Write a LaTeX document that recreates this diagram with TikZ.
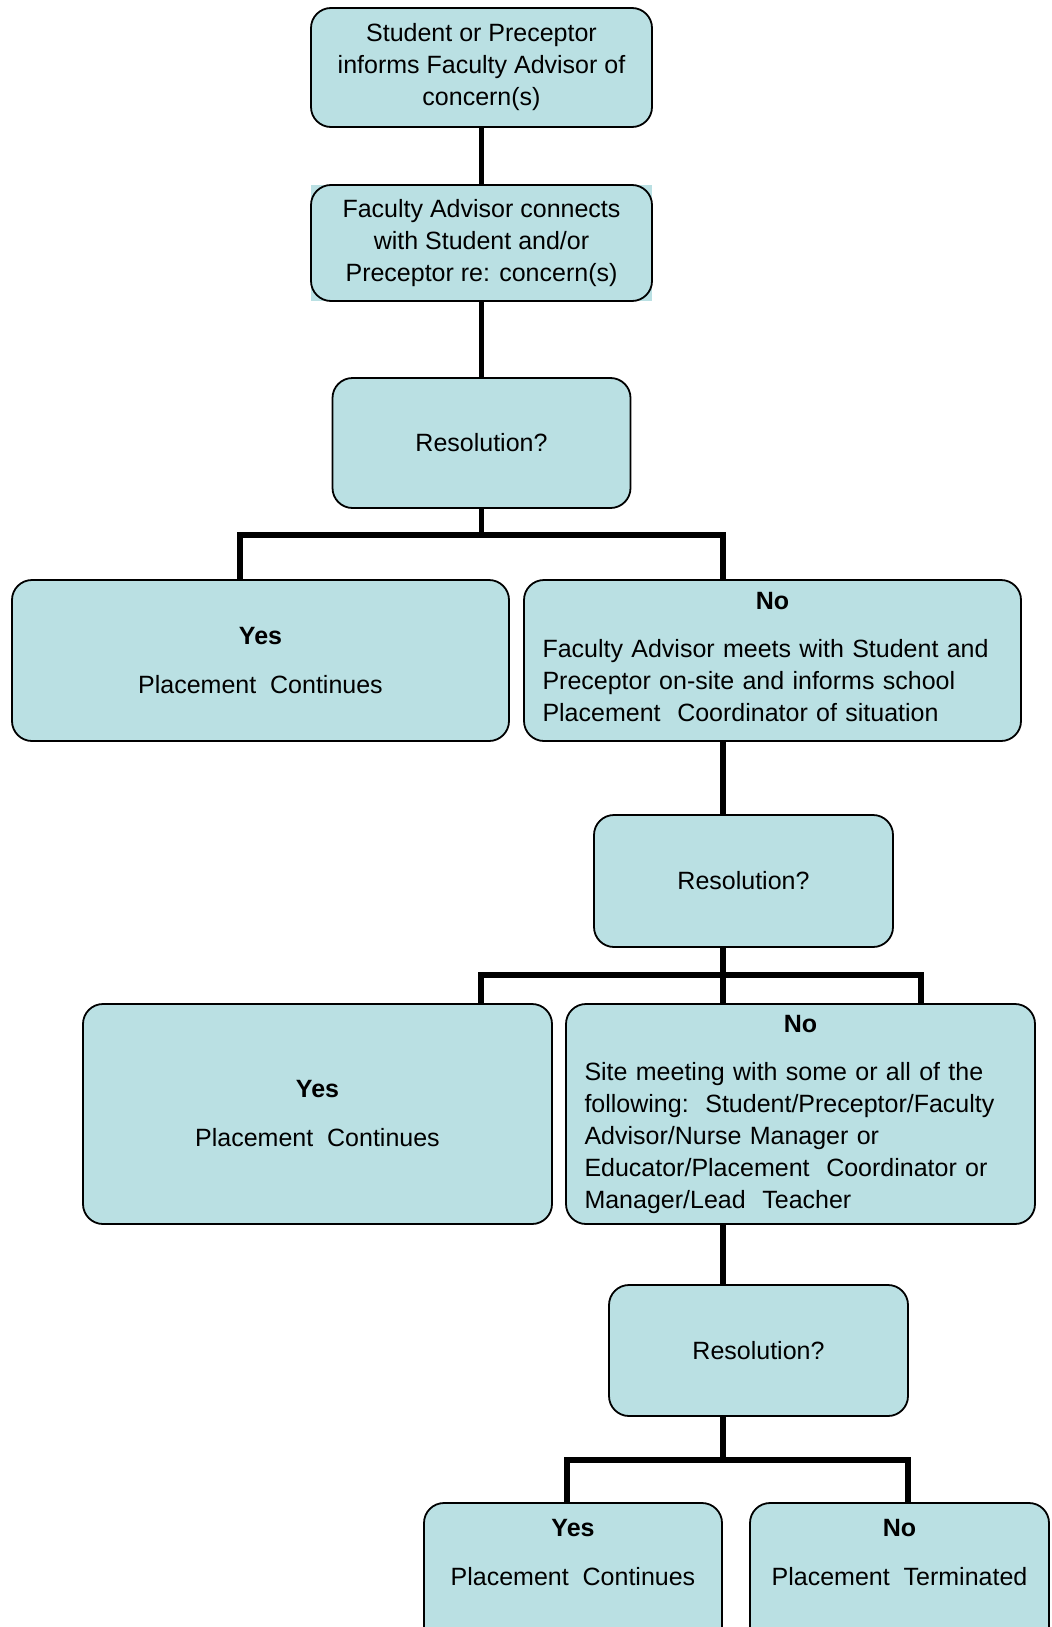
\documentclass[tikz,border=0pt]{standalone}
\usepackage{fontspec}
\setmainfont{Liberation Sans}
\definecolor{boxfill}{RGB}{186,224,227}
\begin{document}
\begin{tikzpicture}[x=0.5pt,y=-0.5pt,
  box/.style={draw=black, line width=0.9pt, fill=boxfill, rounded corners=10pt,
    font=\fontsize{12.5}{16}\selectfont, inner xsep=9pt, inner ysep=2pt},
  bx/.style 2 args={minimum width=#1*0.5pt, minimum height=#2*0.5pt},
  tw/.style={text width=#1*0.5pt-18.5pt},
  conn/.style={draw=black, line width=2.8pt, line join=miter}]
\useasboundingbox (0,0) rectangle (1052,1627);
\clip (0,0) rectangle (1052,1627);
% square fill behind second box
\fill[boxfill] (311,185) rectangle (652,301);
\node[box,bx={341}{119},align=center] (b1) at (481.5,67.5)
  {Student or Preceptor\\informs Faculty Advisor of\\concern(s)};
\node[box,bx={341}{116},align=center] (b2) at (481.5,243)
  {Faculty Advisor connects\\with Student and/or\\Preceptor re: concern(s)};
\node[box,bx={298}{130},align=center] (r1) at (481.5,443) {Resolution?};
\node[box,bx={497}{161},align=center] (y1) at (260.5,660.5)
  {\textbf{Yes}\\[8.5pt]Placement\ \ Continues};
\node[box,bx={497}{161},tw={497},align=left] (n1) at (772.5,660.5)
  {\makebox[\hsize][c]{\textbf{No}}\\[8pt]Faculty Advisor meets with Student and\\Preceptor on-site and informs school\\Placement\ \ Coordinator of situation\\[-12pt]\mbox{}};
\node[box,bx={299}{132},align=center] (r2) at (743.5,881) {Resolution?};
\node[box,bx={469}{220},align=center] (y2) at (317.5,1114)
  {\textbf{Yes}\\[8.5pt]Placement\ \ Continues};
\node[box,bx={469}{220},tw={469},align=left] (n2) at (800.5,1114)
  {\makebox[\hsize][c]{\textbf{No}}\\[8pt]Site meeting with some or all of the\\following:\ \ Student/Preceptor/Faculty\\Advisor/Nurse Manager\ or\\Educator/Placement\ \ Coordinator\ or\\Manager/Lead\ \ Teacher};
\node[box,bx={299}{131},align=center] (r3) at (758.5,1350.5) {Resolution?};
\node[box,bx={298}{180},align=center] (y3) at (573,1593)
  {\textbf{Yes}\\[8.5pt]Placement\ \ Continues\\[25pt]\mbox{}};
\node[box,bx={299}{180},align=center] (n3) at (899.5,1593)
  {\textbf{No}\\[8.5pt]Placement\ \ Terminated\\[25pt]\mbox{}};
% junctions
\coordinate (j1) at (481.5,535);
\coordinate (j1L) at (240,535);
\coordinate (j1R) at (723,535);
\coordinate (j2) at (723,975);
\coordinate (j2L) at (481,975);
\coordinate (j2R) at (921,975);
\coordinate (j3) at (723,1460);
\coordinate (j3L) at (567,1460);
\coordinate (j3R) at (908,1460);
% connectors
\draw[conn] (b1.south) -- (b2.north);
\draw[conn] (b2.south) -- (r1.north);
\draw[conn] (r1.south -| j1) -- (j1);
\draw[conn] (y1.north -| j1L) -- (j1L) -- (j1R) -- (n1.north -| j1R);
\draw[conn] (n1.south -| j1R) -- (r2.north -| j1R);
\draw[conn] (r2.south -| j2) -- (n2.north -| j2);
\draw[conn] (y2.north -| j2L) -- (j2L) -- (j2R) -- (n2.north -| j2R);
\draw[conn] (n2.south -| j3) -- (r3.north -| j3);
\draw[conn] (r3.south -| j3) -- (j3);
\draw[conn] (y3.north -| j3L) -- (j3L) -- (j3R) -- (n3.north -| j3R);
\end{tikzpicture}
\end{document}
